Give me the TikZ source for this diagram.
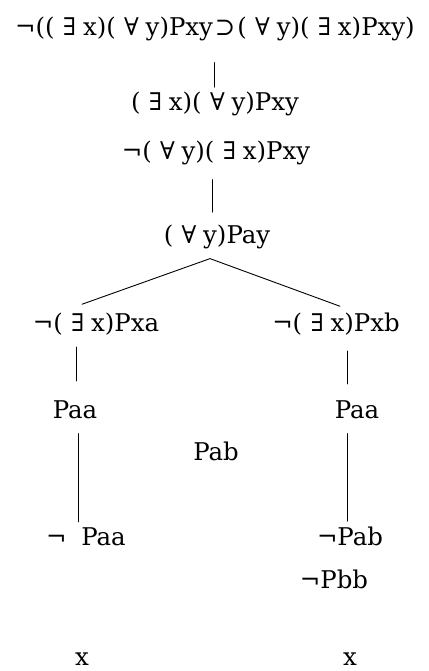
\documentclass[tikz,border=0pt]{standalone}
\usepackage{fontspec}
\setmainfont{DejaVu Serif}
\usetikzlibrary{calc}
% quantifiers set with a little air on both sides
\newcommand\qE{\hspace{.34em}∃\hspace{.28em}}
\newcommand\qA{\hspace{.34em}∀\hspace{.28em}}
\begin{document}
\begin{tikzpicture}[x=1bp,y=-1bp,
  fml/.style={inner sep=0pt,anchor=base,font=\fontsize{24.5}{28}\selectfont},
  edge/.style={line width=0.9pt,line cap=round}]
\useasboundingbox (0,0) rectangle (428,671);
% formulas of the tree
\node[fml] (n1)  at (215,36)  {¬((\qE x)(\qA y)Pxy\hspace{.08em}⊃\hspace{.08em}(\qA y)(\qE x)Pxy)};
\node[fml] (n2)  at (215,111) {(\qE x)(\qA y)Pxy};
\node[fml] (n3)  at (216,159) {¬(\qA y)(\qE x)Pxy};
\node[fml] (n4)  at (217,243) {(\qA y)Pay};
\node[fml] (n5)  at (96,331)  {¬(\qE x)Pxa};
\node[fml] (n6)  at (336,331) {¬(\qE x)Pxb};
\node[fml] (n7)  at (75,418)  {Paa};
\node[fml] (n8)  at (357,418) {Paa};
\node[fml] (n9)  at (216,460) {Pab};
\node[fml] (n10) at (86,545)  {¬\hspace{.6em}Paa};
\node[fml] (n11) at (350,545) {¬Pab};
\node[fml] (n12) at (334,588) {¬Pbb};
\node[fml] (n13) at (82,665)  {x};
\node[fml] (n14) at (350,665) {x};
% trunk
\draw[edge] ($(n1.south)+(-1,21)$) -- ($(n2.north)+(-1,-5)$);
\draw[edge] ($(n3.south)+(-4,15)$) -- ($(n4.north)+(-5,-12)$);
% branching
\coordinate (fork) at ($(n4.south)+(-7,10)$);
\draw[edge] ($(n5.north)+(-14,-8)$) -- (fork) -- ($(n6.north)+(4,-6)$);
% left branch
\draw[edge] ($(n7.north)+(1,-53)$) -- ($(n7.north)+(1,-19)$);
\draw[edge] ($(n7.south)+(3,15)$) -- ($(n10.north)+(-8,-5)$);
% right branch
\draw[edge] ($(n8.north)+(-10,-49)$) -- ($(n8.north)+(-10,-16)$);
\draw[edge] ($(n8.south)+(-10,15)$) -- ($(n11.north)+(-3,-5)$);
\end{tikzpicture}
\end{document}
